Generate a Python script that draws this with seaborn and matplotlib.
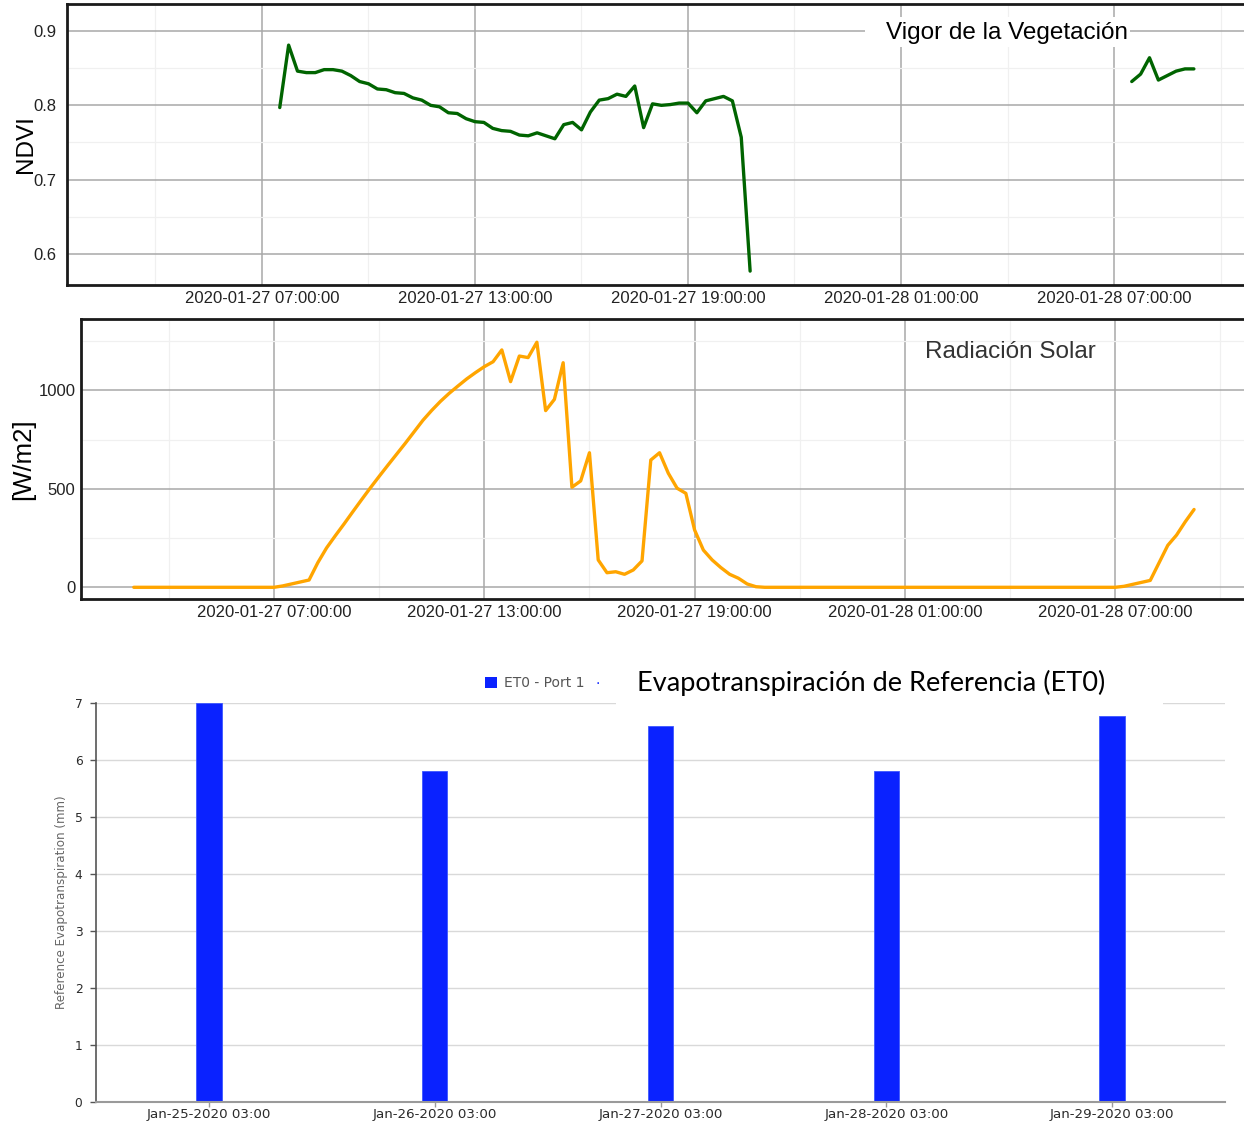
import numpy as np
import pandas as pd
import matplotlib
matplotlib.use("Agg")
import matplotlib.pyplot as plt
import matplotlib.dates as mdates
from matplotlib.patches import Rectangle, Patch
from matplotlib.ticker import MultipleLocator
import seaborn as sns

# ---------------- data ----------------
ndvi_seg1_start = "2020-01-27 07:30"
ndvi_seg1 = [0.797, 0.881, 0.846, 0.844, 0.844, 0.848, 0.848, 0.846, 0.840, 0.832,
             0.829, 0.822, 0.821, 0.817, 0.816, 0.810, 0.807, 0.800, 0.798, 0.790,
             0.789, 0.782, 0.778, 0.777, 0.769, 0.766, 0.765, 0.760, 0.759, 0.763,
             0.759, 0.755, 0.774, 0.777, 0.767, 0.791, 0.807, 0.809, 0.815, 0.812,
             0.826, 0.770, 0.802, 0.800, 0.801, 0.803, 0.803, 0.790, 0.806, 0.809,
             0.812, 0.806, 0.757, 0.577]
ndvi_seg2_start = "2020-01-28 07:30"
ndvi_seg2 = [0.832, 0.842, 0.864, 0.834, 0.840, 0.846, 0.849, 0.849]

rad_night_time = "2020-01-27 03:00"
rad_night_value = 0
rad_day1_start = "2020-01-27 07:00"
rad_day1 = [0, 7, 17, 27, 37, 125, 200, 262, 322, 384,
            445, 505, 563, 620, 676, 732, 790, 848, 898, 944,
            985, 1022, 1058, 1090, 1120, 1145, 1205, 1044, 1174, 1166,
            1244, 897, 954, 1140, 508, 540, 683, 139, 74, 79,
            66, 88, 134, 646, 683, 579, 503, 477, 291, 189,
            139, 100, 66, 46, 17, 3, 0]
rad_day2_start = "2020-01-28 07:00"
rad_day2 = [0, 5, 15, 25, 35, 124, 213, 265, 333, 395]

et0_dates = ["Jan-25-2020 03:00", "Jan-26-2020 03:00", "Jan-27-2020 03:00",
             "Jan-28-2020 03:00", "Jan-29-2020 03:00"]
et0_values = [7.0, 5.8, 6.6, 5.8, 6.77]

ndvi_title = "Vigor de la Vegetación"
rad_title = "Radiación Solar"
et0_title = "Evapotranspiración de Referencia (ET0)"
et0_series = "ET0 - Port 1"

# ---------------- frames ----------------
step = "15min"
ndvi_df = pd.concat([
    pd.DataFrame({"time": pd.date_range(ndvi_seg1_start, periods=len(ndvi_seg1), freq=step),
                  "ndvi": ndvi_seg1, "segment": 1}),
    pd.DataFrame({"time": pd.date_range(ndvi_seg2_start, periods=len(ndvi_seg2), freq=step),
                  "ndvi": ndvi_seg2, "segment": 2}),
], ignore_index=True)

rad_df = pd.concat([
    pd.DataFrame({"time": [pd.Timestamp(rad_night_time)], "rad": [rad_night_value]}),
    pd.DataFrame({"time": pd.date_range(rad_day1_start, periods=len(rad_day1), freq=step),
                  "rad": rad_day1}),
    pd.DataFrame({"time": pd.date_range(rad_day2_start, periods=len(rad_day2), freq=step),
                  "rad": rad_day2}),
], ignore_index=True)

et0_df = pd.DataFrame({"date": et0_dates, "et0": et0_values})

# ---------------- figure ----------------
sns.set_theme(style="white")
plt.rcParams["font.family"] = ["Liberation Sans", "DejaVu Sans"]

W, H = 1244, 1127
fig = plt.figure(figsize=(W / 100, H / 100), dpi=100)
fig.patch.set_facecolor("white")


def add_ax(left, top, right, bottom):
    return fig.add_axes([left / W, 1 - bottom / H, (right - left) / W, (bottom - top) / H])


def style_gg(ax):
    ax.set_facecolor("white")
    for s in ["top", "bottom", "left", "right"]:
        ax.spines[s].set_visible(True)
        ax.spines[s].set_color("#1a1a1a")
        ax.spines[s].set_linewidth(2.0)
    ax.xaxis.set_major_locator(mdates.HourLocator(byhour=[1, 7, 13, 19]))
    ax.xaxis.set_minor_locator(mdates.HourLocator(byhour=[4, 10, 16, 22]))
    ax.xaxis.set_major_formatter(mdates.DateFormatter("%Y-%m-%d %H:%M:%S"))
    ax.grid(which="major", color="#a8a8a8", linewidth=1.1)
    ax.grid(which="minor", color="#f0f0f0", linewidth=0.9)
    ax.set_axisbelow(True)
    ax.tick_params(which="major", length=2.5, width=1, color="#666666", labelsize=12,
                   labelcolor="#222222", labelfontfamily="Liberation Sans", pad=1.5)
    ax.tick_params(which="minor", length=0)
    ax.set_xlabel("")


def date_lim(ax, ref, ref_px, left_px, right_px, px_per_hour):
    r = mdates.date2num(pd.Timestamp(ref).to_pydatetime())
    ax.set_xlim(r - (ref_px - left_px) / px_per_hour / 24, r + (right_px - ref_px) / px_per_hour / 24)


# ---- panel 1: NDVI ----
ax1 = add_ax(67, 4, 1252, 285)
sns.lineplot(data=ndvi_df, x="time", y="ndvi", units="segment", estimator=None,
             color="#006400", linewidth=2.4, ax=ax1)
style_gg(ax1)
date_lim(ax1, "2020-01-27 07:00", 262, 67, 1252, 35.5)
ax1.set_ylim(0.5583, 0.9363)
ax1.yaxis.set_major_locator(MultipleLocator(0.1))
ax1.yaxis.set_minor_locator(MultipleLocator(0.05))
ax1.yaxis.set_major_formatter(matplotlib.ticker.FormatStrFormatter("%.1f"))
ax1.tick_params(axis="y", pad=5)
ax1.set_ylabel("NDVI", fontsize=17.5, color="black", fontfamily="Liberation Sans")
ax1.yaxis.set_label_coords(-0.0256, 0.5)

fig.add_artist(Rectangle((865 / W, 1 - 47 / H), 265 / W, 30 / H, transform=fig.transFigure,
                         facecolor="white", edgecolor="none", zorder=5))
fig.text(1007 / W, 1 - 33 / H, ndvi_title, ha="center", va="center", fontsize=17.5,
         color="black", fontfamily="Liberation Sans", zorder=6)

# ---- panel 2: solar radiation ----
ax2 = add_ax(81, 319.3, 1252, 599.3)
sns.lineplot(data=rad_df, x="time", y="rad", color="#FFA500", linewidth=2.4, ax=ax2)
style_gg(ax2)
date_lim(ax2, "2020-01-27 07:00", 274, 81, 1252, 35.05)
ax2.set_ylim(-60.9, 1360.4)
ax2.yaxis.set_major_locator(MultipleLocator(500))
ax2.yaxis.set_minor_locator(MultipleLocator(250))
ax2.tick_params(axis="y", pad=1.5)
ax2.set_ylabel("[W/m2]", fontsize=18.5, color="black", fontfamily="Liberation Sans")
ax2.yaxis.set_label_coords(-0.0389, 0.5)
fig.text(1010.5 / W, 1 - 352 / H, rad_title, ha="center", va="center", fontsize=17.5,
         color="#333333", fontfamily="Liberation Sans", zorder=6)

# ---- panel 3: ET0 bars ----
ax3 = add_ax(96, 702.7, 1225, 1101.7)
sns.barplot(data=et0_df, x="date", y="et0", color="#0a22ff", saturation=1, width=0.112,
            edgecolor="#3d57ff", linewidth=0.6, ax=ax3)
ax3.set_xlim(-0.5, 4.5)
ax3.set_ylim(0, 7)
ax3.yaxis.set_major_locator(MultipleLocator(1))
ax3.grid(axis="y", color="#d9d9d9", linewidth=1.0)
ax3.grid(axis="x", visible=False)
ax3.set_axisbelow(True)
for s in ["top", "right"]:
    ax3.spines[s].set_visible(False)
ax3.spines["left"].set_color("#555555")
ax3.spines["left"].set_linewidth(1.2)
ax3.spines["bottom"].set_color("#9a9a9a")
ax3.spines["bottom"].set_linewidth(1.5)
ax3.tick_params(axis="y", length=4.3, width=1, color="#555555", labelsize=8.8,
                labelcolor="#2a2a2a", labelfontfamily="DejaVu Sans", pad=5.5, left=True)
ax3.tick_params(axis="x", length=3.6, width=1, color="#9a9a9a", labelsize=9.6,
                labelcolor="#2a2a2a", labelfontfamily="DejaVu Sans", pad=1, bottom=True)
ax3.set_xlabel("")
ax3.set_ylabel("Reference Evapotranspiration (mm)", fontsize=8.6, color="#666666",
               fontfamily="DejaVu Sans")
ax3.yaxis.set_label_coords(-0.0244, 0.5)

leg = ax3.legend(handles=[Patch(facecolor="#0a22ff", edgecolor="none")], labels=[et0_series],
                 loc="center left", bbox_to_anchor=(485 / W, 1 - 683 / H),
                 bbox_transform=fig.transFigure, frameon=False, borderaxespad=0, borderpad=0,
                 handlelength=0.85, handleheight=0.85, handletextpad=0.55,
                 prop={"family": "DejaVu Sans", "size": 10}, labelcolor="#555555")
fig.text(598 / W, 1 - 684 / H, "·", ha="center", va="center", fontsize=10, color="#0a22ff",
         fontfamily="DejaVu Sans")

fig.add_artist(Rectangle((616 / W, 1 - 707 / H), 547 / W, 44 / H, transform=fig.transFigure,
                         facecolor="white", edgecolor="none", zorder=5))
fig.text(871 / W, 1 - 683 / H, et0_title, ha="center", va="center", fontsize=19.5,
         color="black", fontfamily="Lato", zorder=6)

fig.savefig("out.png", dpi=100)
